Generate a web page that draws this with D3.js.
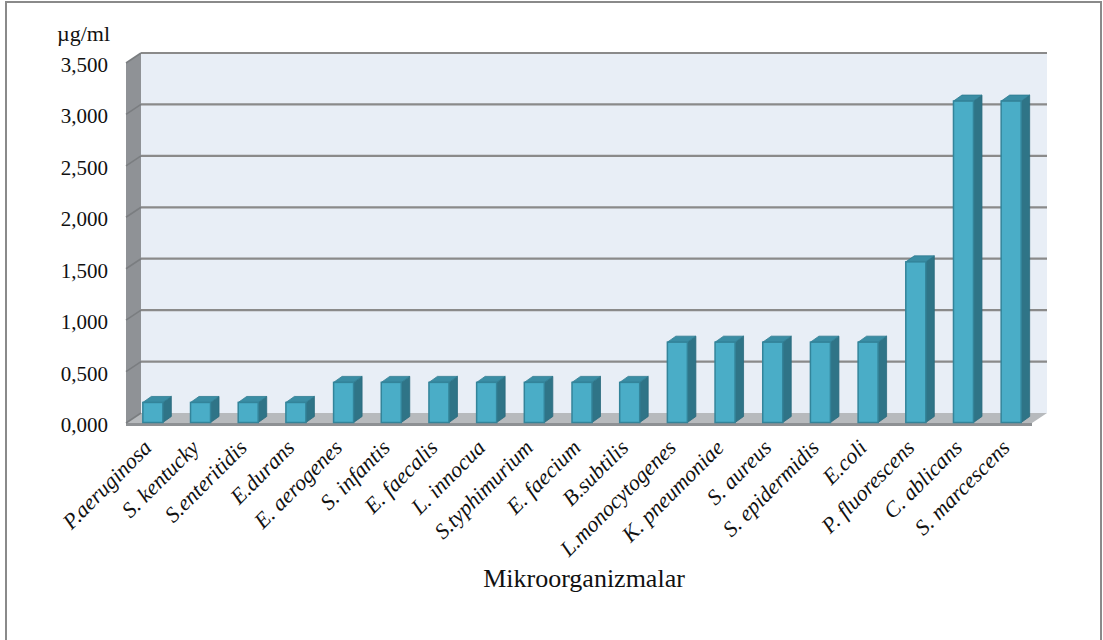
<!DOCTYPE html>
<html>
<head>
<meta charset="utf-8">
<script src="https://cdn.jsdelivr.net/npm/d3@7"></script>
<style>
  html, body { margin: 0; padding: 0; background: #fff; }
  svg { display: block; }
  svg text { font-family: "Liberation Serif", "Times New Roman", Tinos, serif; fill: #111; }
</style>
</head>
<body>
<svg id="chart" width="1103" height="640"></svg>
<script>
// MIC values (µg/ml) per microorganism
const categories = [
  "P.aeruginosa", "S. kentucky", "S.enteritidis", "E.durans", "E. aerogenes",
  "S. infantis", "E. faecalis", "L. innocua", "S.typhimurium", "E. faecium",
  "B.subtilis", "L.monocytogenes", "K. pneumoniae", "S. aureus", "S.  epidermidis",
  "E.coli", "P. fluorescens", "C. ablicans", "S. marcescens"
];
const values = [
  0.195, 0.195, 0.195, 0.195, 0.390,
  0.390, 0.390, 0.390, 0.390, 0.390,
  0.390, 0.781, 0.781, 0.781, 0.781,
  0.781, 1.562, 3.125, 3.125
];
const yTicks = [0, 0.5, 1, 1.5, 2, 2.5, 3, 3.5];
const yTickLabels = ["0,000", "0,500", "1,000", "1,500", "2,000", "2,500", "3,000", "3,500"];
const unitLabel = "µg/ml";
const axisTitle = "Mikroorganizmalar";

const svg = d3.select("#chart");

// frame around the whole chart
svg.append("rect")
  .attr("x", 6).attr("y", 2).attr("width", 1095).attr("height", 660)
  .attr("fill", "#fff").attr("stroke", "#8a8a8a").attr("stroke-width", 2);

// plot geometry: front plane and depth offset of the walls
const front = { left: 126, right: 1032, zero: 423 };
const depth = { dx: 15, dy: -10 };
const plotH = 360;

const y = d3.scaleLinear().domain([0, 3.5]).range([0, plotH]);
const x = d3.scaleBand().domain(categories).range([front.left, front.right]);

const backLeft = front.left + depth.dx, backRight = front.right + depth.dx;
const backZero = front.zero + depth.dy;

const g = svg.append("g");

// back wall
g.append("rect")
  .attr("x", backLeft).attr("y", backZero - plotH)
  .attr("width", backRight - backLeft).attr("height", plotH)
  .attr("fill", "#e8eef6");

// side wall
g.append("polygon")
  .attr("points", [
    [front.left, front.zero - plotH], [backLeft, backZero - plotH],
    [backLeft, backZero], [front.left, front.zero]
  ].map(p => p.join(",")).join(" "))
  .attr("fill", "#8f9296");

// floor
g.append("polygon")
  .attr("points", [
    [front.left, front.zero], [backLeft, backZero],
    [backRight, backZero], [front.right, front.zero]
  ].map(p => p.join(",")).join(" "))
  .attr("fill", "#b7babd");
g.append("rect")
  .attr("x", front.left).attr("y", front.zero)
  .attr("width", front.right - front.left).attr("height", 3)
  .attr("fill", "#8e9194");

// gridlines on the back wall and the side wall
const grid = g.append("g");
yTicks.forEach(t => {
  const yb = backZero - y(t);
  if (t > 0) {
    grid.append("line")
      .attr("x1", backLeft).attr("x2", backRight)
      .attr("y1", yb).attr("y2", yb)
      .attr("stroke", "#8a8a8a").attr("stroke-width", 2.2);
  }
  grid.append("line")
    .attr("x1", front.left).attr("y1", yb - depth.dy)
    .attr("x2", backLeft).attr("y2", yb)
    .attr("stroke", "#7a7d80").attr("stroke-width", 1.6);
});

// y tick labels, aligned to the front plane
svg.append("g").selectAll("text")
  .data(yTicks)
  .join("text")
  .attr("x", 108)
  .attr("y", (d) => front.zero - y(d) + 2)
  .attr("text-anchor", "end")
  .attr("dominant-baseline", "central")
  .attr("font-size", 21)
  .text((d, i) => yTickLabels[i]);

svg.append("text")
  .attr("x", 83.5).attr("y", 41)
  .attr("text-anchor", "middle")
  .attr("font-size", 22)
  .text(unitLabel);

// 3D bars
const barW = 20, bdx = 8.5, bdy = -6, barShift = 3, barBase = 422.5;
const bars = svg.append("g").selectAll("g")
  .data(categories.map((c, i) => ({ c, v: values[i] })))
  .join("g");

bars.each(function (d) {
  const sel = d3.select(this);
  const x0 = x(d.c) + x.bandwidth() / 2 + barShift - barW / 2;
  const top = barBase - y(d.v);
  const pts = a => a.map(p => p.join(",")).join(" ");
  // side face
  sel.append("polygon")
    .attr("points", pts([[x0 + barW, top], [x0 + barW + bdx, top + bdy],
      [x0 + barW + bdx, barBase + bdy], [x0 + barW, barBase]]))
    .attr("fill", "#2f7487").attr("stroke", "#2a6a7c").attr("stroke-width", 0.8);
  // top face
  sel.append("polygon")
    .attr("points", pts([[x0, top], [x0 + bdx, top + bdy],
      [x0 + barW + bdx, top + bdy], [x0 + barW, top]]))
    .attr("fill", "#3a8da4").attr("stroke", "#2f7b90").attr("stroke-width", 0.8);
  // front face
  sel.append("rect")
    .attr("x", x0).attr("y", top)
    .attr("width", barW).attr("height", barBase - top)
    .attr("fill", "#4aadc7").attr("stroke", "#33849a").attr("stroke-width", 1.5);
});

// category labels, rotated
svg.append("g").selectAll("text")
  .data(categories)
  .join("text")
  .attr("transform", d => `translate(${x(d) + x.bandwidth() / 2 + 3},${449}) rotate(-45)`)
  .attr("text-anchor", "end")
  .attr("font-style", "italic")
  .attr("font-size", 22)
  .text(d => d);

// axis title
svg.append("text")
  .attr("x", 584).attr("y", 587)
  .attr("text-anchor", "middle")
  .attr("font-size", 26)
  .text(axisTitle);
</script>
</body>
</html>
